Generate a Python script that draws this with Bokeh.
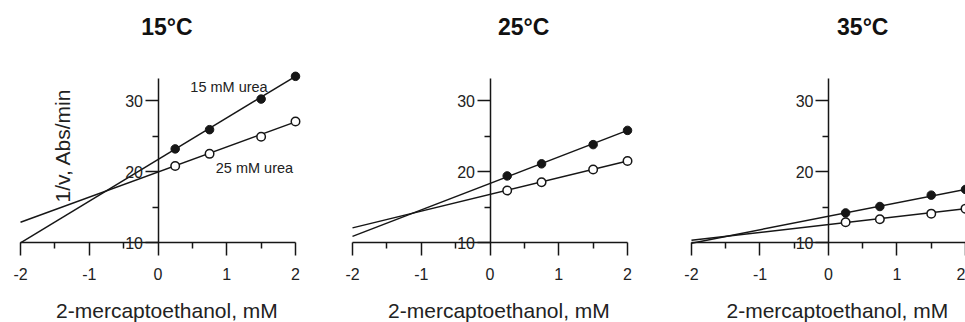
import math
from bokeh.plotting import figure
from bokeh.models import LinearAxis, FixedTicker, Label, Range1d, Grid
from bokeh.layouts import row
from bokeh.embed import file_html
from bokeh.resources import INLINE

# ---- data ----
x_conc = [0.25, 0.75, 1.5, 2.0]          # 2-mercaptoethanol, mM
fit_x = [-2.0, 2.0]                       # extent of fitted lines

# 15 C
t15_urea15 = [23.2, 25.9, 30.2, 33.4]
t15_urea25 = [20.8, 22.5, 24.9, 27.05]
t15_fit15 = [10.0, 33.4]
t15_fit25 = [12.9, 27.0]
# 25 C
t25_urea15 = [19.4, 21.1, 23.8, 25.8]
t25_urea25 = [17.35, 18.5, 20.3, 21.5]
t25_fit15 = [10.9, 25.8]
t25_fit25 = [12.1, 21.5]
# 35 C
t35_urea15 = [14.2, 15.1, 16.7, 17.5]
t35_urea25 = [12.9, 13.3, 14.1, 14.8]
t35_fit15 = [9.95, 17.5]
t35_fit25 = [10.35, 14.8]

titles = ["15°C", "25°C", "35°C"]
x_ticks = [-2, -1, 0, 1, 2]
x_tick_labels = ["-2", "-1", "0", "1", "2"]
x_minor = [-1.5, -0.5, 0.5, 1.5]
y_ticks = [10, 20, 30]
y_tick_labels = ["10", "20", "30"]
y_minor = [15, 25]
x_label = "2-mercaptoethanol, mM"
y_label = "1/v, Abs/min"
series_labels = ["15 mM urea", "25 mM urea"]

FONT = "Liberation Sans"
INK = "#161616"
H = 322
Y_RANGE = (-1.2, 44.055)


def style_axis(ax, standoff):
    ax.axis_line_width = 1.5
    ax.axis_line_color = INK
    ax.major_tick_line_width = 1.5
    ax.minor_tick_line_width = 1.5
    ax.major_tick_line_color = INK
    ax.minor_tick_line_color = INK
    ax.major_tick_out = 13
    ax.major_tick_in = 0
    ax.minor_tick_out = 6
    ax.minor_tick_in = 0
    ax.major_label_text_font = FONT
    ax.major_label_text_font_size = "16px"
    ax.major_label_text_color = "#222222"
    ax.major_label_standoff = standoff


def make_panel(width, xr, title, title_x, pts15, pts25, fit15, fit25, ylab=False, labels=False):
    p = figure(width=width, height=H, x_range=Range1d(*xr), y_range=Range1d(*Y_RANGE),
               output_backend="svg", toolbar_location=None,
               x_axis_location=None, y_axis_location=None, min_border=0)
    p.outline_line_color = None
    p.background_fill_color = "white"
    p.border_fill_color = "white"
    p.center = [r for r in p.center if not isinstance(r, Grid)]

    xax = LinearAxis(fixed_location=10, bounds=(-2, 2),
                     ticker=FixedTicker(ticks=x_ticks, minor_ticks=x_minor),
                     major_label_overrides=dict(zip(x_ticks, x_tick_labels)))
    style_axis(xax, 12)
    p.add_layout(xax, "below")
    yax = LinearAxis(fixed_location=0, bounds=(10, 33.1),
                     ticker=FixedTicker(ticks=y_ticks, minor_ticks=y_minor),
                     major_label_overrides=dict(zip(y_ticks, y_tick_labels)))
    style_axis(yax, 2)
    p.add_layout(yax, "left")

    p.line(fit_x, fit15, line_width=1.5, line_color=INK)
    p.line(fit_x, fit25, line_width=1.5, line_color=INK)
    p.scatter(x_conc, pts15, marker="circle", size=8.5, fill_color=INK, line_color=INK)
    p.scatter(x_conc, pts25, marker="circle", size=8.5, fill_color="white",
              line_color=INK, line_width=1.5)

    p.add_layout(Label(x=title_x, y=40.4, text=title, text_font=FONT,
                       text_font_size="23px", text_font_style="bold",
                       text_align="center", text_baseline="middle", text_color="#111111"))
    p.add_layout(Label(x=0.13, y=0.45, text=x_label, text_font=FONT,
                       text_font_size="21px", text_align="center",
                       text_baseline="middle", text_color="#222222"))
    if ylab:
        p.add_layout(Label(x=-1.382, y=23.68, text=y_label, text_font=FONT,
                           text_font_size="21px", text_align="center",
                           text_baseline="middle", angle=math.pi / 2,
                           text_color="#222222"))
    if labels:
        p.add_layout(Label(x=0.47, y=31.85, text=series_labels[0], text_font=FONT,
                           text_font_size="14.5px", text_align="left",
                           text_baseline="middle", text_color="#222222"))
        p.add_layout(Label(x=0.84, y=20.5, text=series_labels[1], text_font=FONT,
                           text_font_size="14.5px", text_align="left",
                           text_baseline="middle", text_color="#222222"))
    return p


p1 = make_panel(340, (-2.2909, 2.6545), titles[0], 0.13, t15_urea15, t15_urea25,
                t15_fit15, t15_fit25, ylab=True, labels=True)
p2 = make_panel(339, (-2.1745, 2.756), titles[1], 0.49, t25_urea15, t25_urea25,
                t25_fit15, t25_fit25)
p3 = make_panel(286, (-2.175, 2.0), titles[2], 0.5, t35_urea15, t35_urea25,
                t35_fit15, t35_fit25)

layout = row(p1, p2, p3)
open("out.html", "w").write(file_html(layout, INLINE))
